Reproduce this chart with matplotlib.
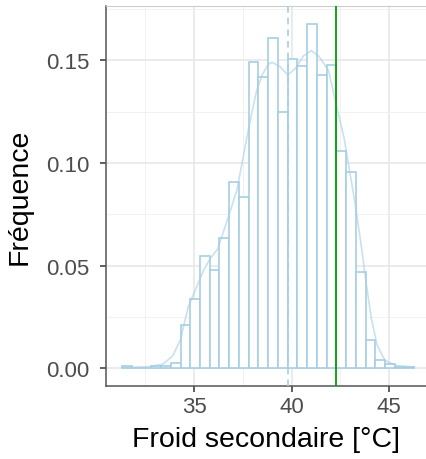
import numpy as np
import matplotlib
matplotlib.use('Agg')
import matplotlib.pyplot as plt
from matplotlib.ticker import MultipleLocator

# Histogram bins (binwidth 0.5) and density values
bin_start = 31.3
bin_width = 0.5
freq = [0.001, 0.0, 0.0, 0.001, 0.001, 0.0025, 0.021, 0.0337, 0.0545, 0.048,
        0.0635, 0.0906, 0.0836, 0.149, 0.142, 0.161, 0.1247, 0.1507, 0.147, 0.1677,
        0.1429, 0.1479, 0.106, 0.0955, 0.0467, 0.0139, 0.0038, 0.002, 0.0008, 0.0008]

# Density curve points
dens_x = [31.3, 32.0, 32.7, 33.4, 33.9, 34.3, 34.7, 35.1, 35.5, 35.8, 36.2, 36.7,
          37.2, 37.5, 37.8, 38.2, 38.5, 38.8, 39.0, 39.4, 39.8, 40.2, 40.6, 41.0,
          41.4, 41.9, 42.3, 42.7, 43.0, 43.3, 43.6, 43.85, 44.1, 44.4, 44.8, 45.4, 46.3]
dens_y = [0.0004, 0.0005, 0.0008, 0.002, 0.006, 0.014, 0.03, 0.039, 0.048, 0.053,
          0.058, 0.072, 0.087, 0.102, 0.117, 0.135, 0.143, 0.148, 0.149, 0.147,
          0.1429, 0.146, 0.152, 0.1547, 0.152, 0.145, 0.128, 0.112, 0.095, 0.078,
          0.058, 0.040, 0.024, 0.011, 0.0037, 0.0013, 0.0005]

mean_line = 39.8   # dashed
target_line = 42.3  # green

edges = bin_start + bin_width * np.arange(len(freq))

fig = plt.figure(figsize=(4.26, 4.60), dpi=100)
ax = fig.add_axes([0.249, 0.159, 0.751, 0.826])

blue = '#A6CEE3'
ax.bar(edges, freq, width=bin_width, align='edge', facecolor='white',
       edgecolor=blue, linewidth=1.2, zorder=2)
ax.plot(dens_x, dens_y, color=blue, alpha=0.6, linewidth=1.2, zorder=3)
ax.axvline(mean_line, color=blue, linestyle=(0, (4, 3)), linewidth=1.2, zorder=4)
ax.axvline(target_line, color='#00A000', linewidth=1.3, zorder=5)

ax.set_xlim(30.48, 46.9)
ax.set_ylim(-0.0086, 0.1765)

ax.xaxis.set_major_locator(MultipleLocator(5))
ax.xaxis.set_minor_locator(MultipleLocator(2.5))
ax.yaxis.set_major_locator(MultipleLocator(0.05))
ax.yaxis.set_minor_locator(MultipleLocator(0.025))
ax.yaxis.set_major_formatter(plt.FuncFormatter(lambda v, p: f'{v:.2f}'))

ax.grid(which='major', color='#E6E6E6', linewidth=1.1, zorder=0)
ax.grid(which='minor', color='#EFEFEF', linewidth=0.6, zorder=0)
ax.set_axisbelow(True)

ax.tick_params(which='major', direction='out', length=4, width=1.1,
               color='#333333', labelcolor='#4D4D4D', labelsize=16, pad=3)
ax.tick_params(axis='y', which='major', pad=8)
ax.tick_params(which='minor', length=0)

for side in ['left', 'bottom']:
    ax.spines[side].set_color('#555555')
    ax.spines[side].set_linewidth(1.1)
ax.spines['top'].set_color('#CCCCCC')
ax.spines['right'].set_visible(False)

ax.set_xlabel('Froid secondaire [°C]', fontsize=20.5, color='black', labelpad=7)
ax.set_ylabel('Fréquence', fontsize=20.5, color='black', labelpad=10)

plt.rcParams['font.family'] = ['Liberation Sans', 'DejaVu Sans']
for t in ax.get_xticklabels() + ax.get_yticklabels() + [ax.xaxis.label, ax.yaxis.label]:
    t.set_family(['Liberation Sans', 'DejaVu Sans'])

fig.savefig('out.png', dpi=100)
